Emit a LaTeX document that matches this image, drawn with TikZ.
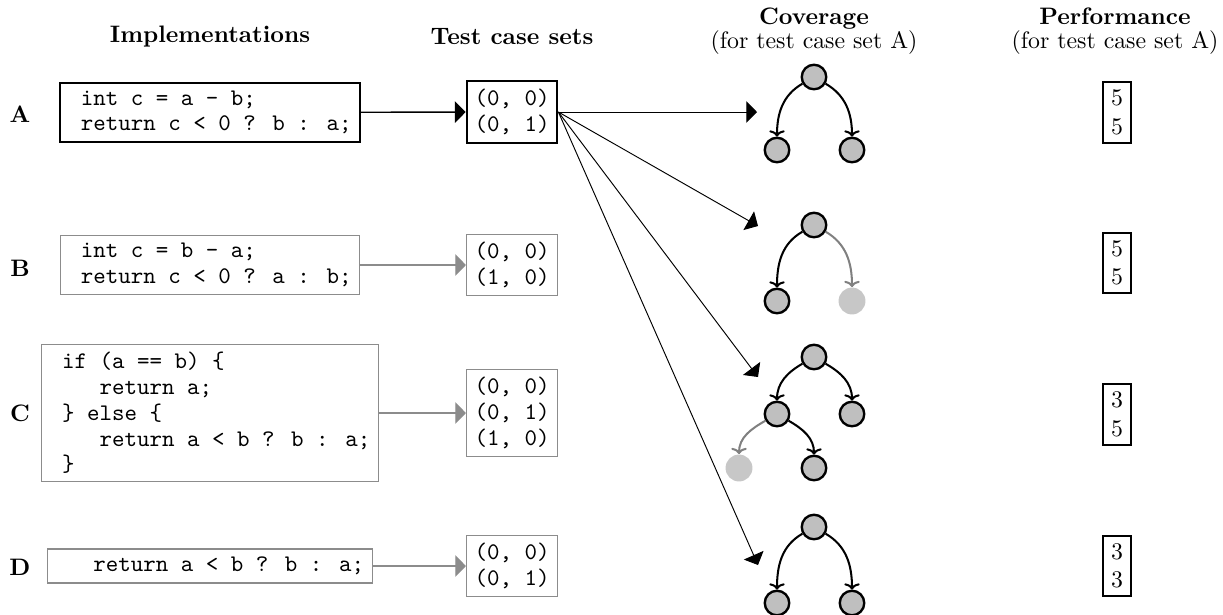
\documentclass[tikz,border=0pt]{standalone}
\usetikzlibrary{arrows.meta}
\begin{document}
\begin{tikzpicture}[x=0.42pt, y=-0.42pt,
  head/.style={font=\bfseries, anchor=base},
  sub/.style={anchor=base},
  rowlab/.style={font=\bfseries},
  code/.style={draw, align=left, inner sep=3.33pt,
    font=\ttfamily\fontsize{10}{10.8}\selectfont},
  chosen/.style={thick},
  other/.style={draw=black!45, line width=0.5pt},
  tests/.style={code},
  perf/.style={draw, thick, align=center, inner sep=3.33pt},
  bigtip/.style={-{Triangle[length=4.5pt,width=9pt]}},
  feed/.style={bigtip, line width=0.6pt},
  feedgray/.style={bigtip, line width=0.6pt, draw=black!45, fill=black!45},
  fan/.style={bigtip, line width=0.4pt},
  tnode/.style={circle, draw, line width=1pt, fill=black!25,
    minimum size=10.3pt, inner sep=0pt},
  tmiss/.style={circle, fill=black!22, minimum size=11.3pt, inner sep=0pt},
  tedge/.style={-{To[length=2.6pt,width=6.5pt]}, line width=0.85pt},
  tedgegray/.style={tedge, draw=black!50},
]
\useasboundingbox (0,0) rectangle (1223,614);

% column headings
\node[head] (hImpl) at (210,42) {Implementations};
\node[head] (hTest) at (512,44) {Test case sets};
\node[head] (hCov)  at (814,24) {Coverage};
\node[sub]  (hCovS) at (814,48) {(for test case set A)};
\node[head] (hPerf) at (1115,24) {Performance};
\node[sub]  (hPerfS) at (1115,48) {(for test case set A)};

% row labels
\node[rowlab] (lA) at (20,114) {A};
\node[rowlab] (lB) at (20,268) {B};
\node[rowlab] (lC) at (20,413) {C};
\node[rowlab] (lD) at (20,567) {D};

% implementations
\node[code, chosen] (iA) at (210,112.5)
  {\hphantom{x}int c = a - b;\\\hphantom{x}return c < 0 ? b : a;};
\node[code, other] (iB) at (210,265)
  {\hphantom{x}int c = b - a;\\\hphantom{x}return c < 0 ? a : b;};
\node[code, other] (iC) at (210,413)
  {\hphantom{x}if (a == b) \{\\
   \hphantom{xxxx}return a;\\
   \hphantom{x}\} else \{\\
   \hphantom{xxxx}return a < b ? b : a;\\
   \hphantom{x}\}};
\node[code, other] (iD) at (210,566)
  {\hphantom{xxx}return a < b ? b : a;};

% test case sets
\node[tests, chosen] (tA) at (512,112) {(0, 0)\\(0, 1)};
\node[tests, other] (tB) at (512,265) {(0, 0)\\(1, 0)};
\node[tests, other] (tC) at (512,413) {(0, 0)\\(0, 1)\\(1, 0)};
\node[tests, other] (tD) at (512,566) {(0, 0)\\(0, 1)};

% implementation -> test case set
\draw[feed] (iA) -- (tA);
\draw[feedgray] (iB) -- (tB);
\draw[feedgray] (iC) -- (tC);
\draw[feedgray] (iD) -- (tD);

% test case set A -> coverage of every implementation
\coordinate (cA) at (757,112);
\coordinate (cB) at (758,226);
\coordinate (cC) at (758,377);
\coordinate (cD) at (758,565);
\draw[fan] (tA.east) -- (cA);
\draw[fan] (tA.east) -- (cB);
\draw[fan] (tA.east) -- (cC);
\draw[fan] (tA.east) -- (cD);

% coverage trees
\node[tnode] (r1) at (814,77) {};
\node[tnode] (a1) at (777,150) {};
\node[tnode] (b1) at (852,150) {};
\draw[tedge] (r1) to[out=-150,in=90] (a1);
\draw[tedge] (r1) to[out=-30,in=90] (b1);

\node[tnode] (r2) at (814,225) {};
\node[tnode] (a2) at (777,301) {};
\node[tmiss] (b2) at (852,301) {};
\draw[tedge] (r2) to[out=-150,in=90] (a2);
\draw[tedgegray] (r2) to[out=-30,in=90] (b2);

\node[tnode] (r3) at (814,357) {};
\node[tnode] (a3) at (777,414) {};
\node[tnode] (b3) at (852,414) {};
\node[tmiss] (c3) at (739,468) {};
\node[tnode] (d3) at (814,468) {};
\draw[tedge] (r3) to[out=-150,in=90] (a3);
\draw[tedge] (r3) to[out=-30,in=90] (b3);
\draw[tedgegray] (a3) to[out=-150,in=90] (c3);
\draw[tedge] (a3) to[out=-30,in=90] (d3);

\node[tnode] (r4) at (814,527) {};
\node[tnode] (a4) at (777,603) {};
\node[tnode] (b4) at (852,603) {};
\draw[tedge] (r4) to[out=-150,in=90] (a4);
\draw[tedge] (r4) to[out=-30,in=90] (b4);

% performance
\node[perf] (pA) at (1117,112.5) {5\\5};
\node[perf] (pB) at (1117,263) {5\\5};
\node[perf] (pC) at (1117,414.5) {3\\5};
\node[perf] (pD) at (1117,566) {3\\3};
\end{tikzpicture}
\end{document}
